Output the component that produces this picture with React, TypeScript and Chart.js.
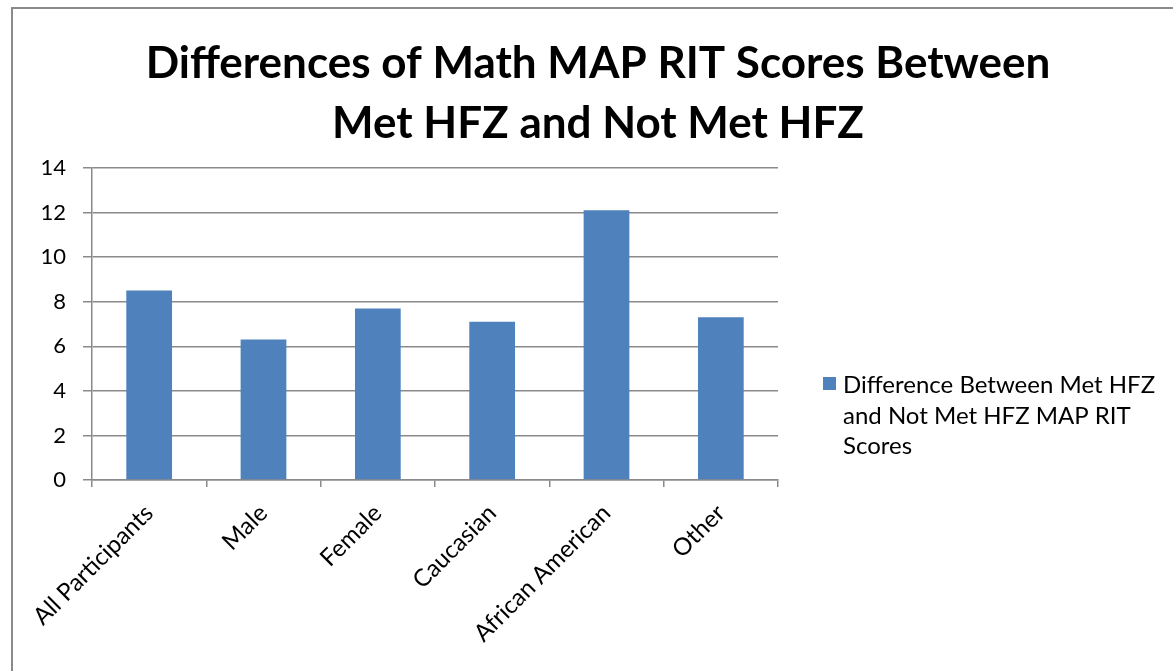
import React, { useEffect, useRef } from "react";
import { Chart, registerables } from "chart.js";

Chart.register(...registerables);

const categories = ["All Participants", "Male", "Female", "Caucasian", "African American", "Other"];
const differenceValues = [8.5, 6.3, 7.7, 7.1, 12.1, 7.3];
const titleLines = ["Differences of Math MAP RIT Scores Between", "Met HFZ and Not Met HFZ"];
const legendLines = ["Difference Between Met HFZ", "and Not Met HFZ MAP RIT", "Scores"];
const yTicks = [0, 2, 4, 6, 8, 10, 12, 14];

const BAR_COLOR = "#4F81BD";
const GRID_COLOR = "#8a8a8a";
const FONT = "Lato, 'Open Sans', sans-serif";

const titlePlugin = {
  id: "fixedTitle",
  afterDraw(chart: any) {
    const ctx = chart.ctx;
    ctx.save();
    ctx.fillStyle = "#000";
    ctx.font = `bold 44px ${FONT}`;
    ctx.textAlign = "center";
    ctx.textBaseline = "alphabetic";
    titleLines.forEach((line, i) => {
      ctx.fillText(line, 598, 78 + i * 60);
    });
    ctx.restore();
  },
};

const legendPlugin = {
  id: "wrappedLegend",
  afterDraw(chart: any) {
    const ctx = chart.ctx;
    ctx.save();
    ctx.fillStyle = chart.data.datasets[0].backgroundColor;
    ctx.fillRect(823, 377, 13, 13);
    ctx.fillStyle = "#000";
    ctx.font = `24px ${FONT}`;
    ctx.textBaseline = "alphabetic";
    ctx.textAlign = "left";
    legendLines.forEach((line, i) => {
      ctx.fillText(line, 843, 393 + i * 30.5);
    });
    ctx.restore();
  },
};

export default function App() {
  const ref = useRef<HTMLCanvasElement | null>(null);

  useEffect(() => {
    if (!ref.current) return;
    const chart = new Chart(ref.current, {
      type: "bar",
      data: {
        labels: categories,
        datasets: [
          {
            label: legendLines.join(" "),
            data: differenceValues,
            backgroundColor: BAR_COLOR,
            borderWidth: 0,
            categoryPercentage: 1,
            barPercentage: 0.4,
          },
        ],
      },
      options: {
        animation: false,
        responsive: false,
        layout: { padding: { left: 0, right: 395, top: 168, bottom: 0 } },
        plugins: {
          legend: { display: false },
          tooltip: { enabled: false },
          title: { display: false },
        },
        scales: {
          x: {
            offset: true,
            afterFit: (s: any) => {
              s.height = 191;
            },
            grid: {
              offset: true,
              drawOnChartArea: false,
              drawTicks: true,
              tickLength: 7,
              color: GRID_COLOR,
              lineWidth: 1.5,
            },
            border: { display: true, color: GRID_COLOR, width: 1.5 },
            ticks: {
              color: "#000",
              font: { family: FONT, size: 24 },
              minRotation: 45,
              maxRotation: 45,
              autoSkip: false,
              padding: 12,
            },
          },
          y: {
            min: 0,
            max: 14,
            afterFit: (s: any) => {
              s.width = 92;
            },
            afterBuildTicks: (s: any) => {
              s.ticks = yTicks.map((v) => ({ value: v }));
            },
            grid: {
              color: GRID_COLOR,
              lineWidth: 1.5,
              tickLength: 9,
            },
            border: { display: true, color: GRID_COLOR, width: 1.5 },
            ticks: {
              color: "#000",
              font: { family: FONT, size: 22 },
              padding: 17,
            },
          },
        },
      },
      plugins: [titlePlugin, legendPlugin],
    });
    return () => chart.destroy();
  }, []);

  return (
    <div
      style={{
        position: "fixed",
        left: 0,
        top: 0,
        width: 1173,
        height: 671,
        overflow: "hidden",
        background: "#fff",
      }}
    >
      <div
        style={{
          position: "absolute",
          left: 11,
          top: 7,
          width: 1400,
          height: 900,
          borderLeft: "2px solid #8a8a8a",
          borderTop: "2px solid #8a8a8a",
        }}
      />
      <canvas
        ref={ref}
        width={1173}
        height={671}
        style={{ position: "absolute", left: 0, top: 0, width: 1173, height: 671 }}
      />
    </div>
  );
}
